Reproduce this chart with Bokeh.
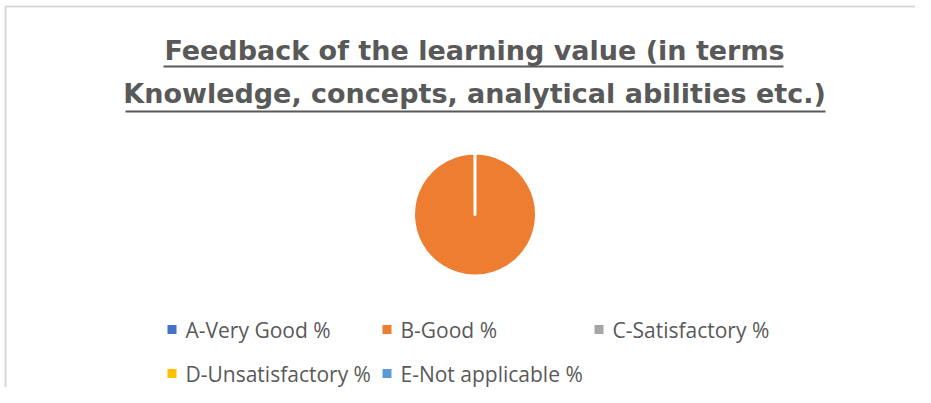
import math
from bokeh.plotting import figure
from bokeh.models import Range1d, ColumnDataSource
from bokeh.core.properties import value
from bokeh.embed import file_html
from bokeh.resources import INLINE

# ---- data ----
title_lines = ["Feedback of the learning value (in terms",
               "Knowledge, concepts, analytical abilities etc.)"]
categories = ["A-Very Good %", "B-Good %", "C-Satisfactory %",
              "D-Unsatisfactory %", "E-Not applicable %"]
values = [0, 100, 0, 0, 0]
colors = ["#4472C4", "#ED7D31", "#A5A5A5", "#FFC000", "#5B9BD5"]

W, H = 915, 387
TEXT = "#595959"

p = figure(width=W, height=H, output_backend="svg", toolbar_location=None,
           x_range=Range1d(0, W), y_range=Range1d(0, H),
           min_border=0, outline_line_color=None)
p.axis.visible = False
p.grid.visible = False
p.background_fill_color = "white"
p.border_fill_color = "white"

# page-y (from top of plot) -> data y
def Y(page_y):
    return H - page_y

# chart frame (top/left edges)
p.line(x=[5, W], y=[Y(6), Y(6)], line_color="#d9d9d9", line_width=2)
p.line(x=[5, 5], y=[Y(6), Y(H)], line_color="#d9d9d9", line_width=2)

# title
p.text(x=[474, 474], y=[Y(50), Y(93)], text=title_lines,
       text_font=value("DejaVu Sans"), text_font_style="bold",
       text_font_size="27px", text_color=TEXT,
       text_align="center", text_baseline="middle")
p.segment(x0=[163, 125], y0=[Y(66), Y(111)], x1=[783, 825], y1=[Y(66), Y(111)],
          line_color=TEXT, line_width=2)

# pie (clockwise from 12 o'clock)
total = sum(values)
cx, cy, r = 474.5, Y(214), 61.5
starts, ends, cols = [], [], []
cum = 0.0
for v, c in zip(values, colors):
    if v > 0:
        s = math.pi / 2 - 2 * math.pi * cum / total
        sweep = min(2 * math.pi * v / total, 2 * math.pi - 1e-3)
        starts.append(s)
        ends.append(s - sweep)
        cols.append(c)
    cum += v
src = ColumnDataSource(dict(start=starts, end=ends, color=cols))
p.wedge(x=cx, y=cy, radius=r, start_angle="start", end_angle="end",
        direction="clock", fill_color="color", line_color="white",
        line_width=3, line_join="round", line_cap="round", source=src)

# legend
leg_x = [167, 382, 594, 167, 382]
leg_y = [329, 329, 329, 373, 373]
p.rect(x=[lx + 4.5 for lx in leg_x], y=[Y(ly) for ly in leg_y], width=9, height=9,
       fill_color=colors, line_color=None)
p.text(x=[lx + 18 for lx in leg_x], y=[Y(ly) for ly in leg_y], text=categories,
       text_font=value("Open Sans"), text_font_size="21px", text_color=TEXT,
       text_align="left", text_baseline="middle")

open("out.html", "w").write(file_html(p, INLINE))
